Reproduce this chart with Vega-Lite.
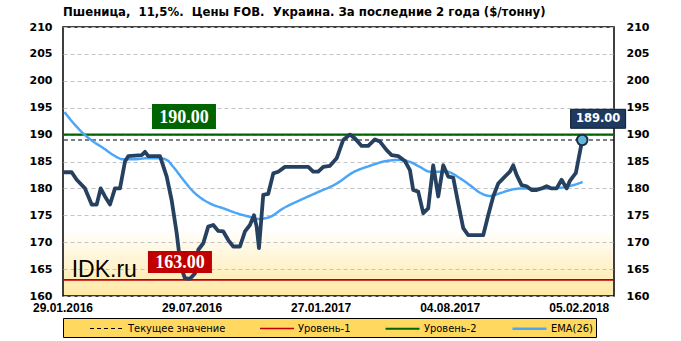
{
  "$schema": "https://vega.github.io/schema/vega-lite/v6.json",
  "width": 551,
  "height": 269,
  "autosize": {"type": "none"},
  "padding": {"left": 63, "top": 27, "right": 67, "bottom": 45},
  "background": "white",
  "title": {
    "text": "Пшеница,\u00a0 11,5%.\u00a0 Цены FOB.\u00a0 Украина. За последние 2 года ($/тонну)",
    "anchor": "start",
    "frame": "group",
    "font": "DejaVu Sans Condensed, Liberation Sans",
    "fontSize": 13,
    "fontWeight": "bold",
    "color": "black",
    "offset": 2
  },
  "view": {
    "stroke": "black",
    "strokeWidth": 1.5,
    "fill": {
      "gradient": "linear",
      "x1": 0, "y1": 0, "x2": 0, "y2": 1,
      "stops": [
        {"offset": 0, "color": "#FFFFFF"},
        {"offset": 0.75, "color": "#FFFFFF"},
        {"offset": 1, "color": "#FFE9A3"}
      ]
    }
  },
  "datasets": {
    "levels": [
      {"s": "Текущее значение", "v": 189},
      {"s": "Уровень-1", "v": 163},
      {"s": "Уровень-2", "v": 190}
    ],
    "dates": [
      {"t": 0, "label": "29.01.2016"},
      {"t": 26, "label": "29.07.2016"},
      {"t": 52, "label": "27.01.2017"},
      {"t": 78, "label": "04.08.2017"},
      {"t": 104, "label": "05.02.2018"}
    ],
    "price": [
      {"t":0.3,"v":183},{"t":1.75,"v":183},{"t":2.76,"v":181.6},{"t":4.43,"v":180},{"t":5.78,"v":177},{"t":6.79,"v":177},{"t":7.59,"v":180},{"t":8.46,"v":178.5},{"t":9.47,"v":177},{"t":10.47,"v":180},{"t":11.48,"v":180},{"t":12.49,"v":185},{"t":13.15,"v":186},{"t":15.85,"v":186.2},{"t":16.52,"v":186.8},{"t":17.18,"v":186},{"t":19.54,"v":186},{"t":20.89,"v":182.2},{"t":21.89,"v":177.8},{"t":22.9,"v":171.7},{"t":23.71,"v":165.5},{"t":24.57,"v":163.3},{"t":25.58,"v":163.2},{"t":26.59,"v":164.2},{"t":27.25,"v":168.6},{"t":28.26,"v":169.8},{"t":29.26,"v":172.9},{"t":30.27,"v":173.2},{"t":31.28,"v":172.1},{"t":32.29,"v":172},{"t":33.29,"v":170.4},{"t":34.3,"v":169.2},{"t":35.65,"v":169.2},{"t":36.66,"v":172},{"t":37.66,"v":173.2},{"t":38.47,"v":175},{"t":39.01,"v":172.9},{"t":39.48,"v":168.9},{"t":40.34,"v":178.8},{"t":41.35,"v":179},{"t":42.36,"v":182.8},{"t":43.36,"v":183.1},{"t":44.71,"v":184},{"t":49.41,"v":184},{"t":50.41,"v":183.1},{"t":51.42,"v":183.1},{"t":52.43,"v":184},{"t":53.78,"v":184.2},{"t":55.13,"v":185.6},{"t":56.45,"v":189},{"t":57.8,"v":190},{"t":58.81,"v":189.3},{"t":60.16,"v":187.9},{"t":61.49,"v":187.9},{"t":62.84,"v":189.1},{"t":63.85,"v":188.7},{"t":65.2,"v":187.1},{"t":66.2,"v":186.2},{"t":67.53,"v":186},{"t":68.88,"v":185.1},{"t":69.89,"v":183.4},{"t":70.55,"v":179.7},{"t":71.56,"v":179.4},{"t":72.57,"v":175.4},{"t":73.57,"v":176.3},{"t":74.58,"v":184.3},{"t":75.59,"v":178.5},{"t":76.6,"v":184.3},{"t":77.6,"v":182.2},{"t":78.61,"v":182},{"t":79.62,"v":177.2},{"t":80.63,"v":172.6},{"t":81.63,"v":171.3},{"t":84.65,"v":171.3},{"t":85.66,"v":175},{"t":86.67,"v":178.5},{"t":87.67,"v":180.9},{"t":89.02,"v":182.2},{"t":90.03,"v":183.1},{"t":90.7,"v":184.3},{"t":91.38,"v":182.5},{"t":92.39,"v":180.6},{"t":93.39,"v":180.4},{"t":94.4,"v":179.7},{"t":95.41,"v":179.7},{"t":96.42,"v":180},{"t":97.42,"v":180.4},{"t":98.43,"v":180},{"t":99.44,"v":180},{"t":100.44,"v":181.6},{"t":101.45,"v":180},{"t":102.11,"v":181.4},{"t":103.32,"v":182.9},{"t":104.6,"v":189}
    ],
    "ema": [
      {"t":0.3,"v":194.2},{"t":2.42,"v":191.8},{"t":4.09,"v":190.2},{"t":6.1,"v":188.7},{"t":8.12,"v":187.5},{"t":10.13,"v":186.2},{"t":12.15,"v":185.4},{"t":14.16,"v":185.4},{"t":16.86,"v":185.6},{"t":19.54,"v":185.6},{"t":20.89,"v":185.3},{"t":22.22,"v":184},{"t":24.23,"v":181.6},{"t":26.24,"v":179.4},{"t":29.61,"v":177.2},{"t":32.29,"v":176.3},{"t":34.99,"v":175.4},{"t":37.66,"v":174.7},{"t":39.34,"v":174.3},{"t":41.69,"v":174.7},{"t":44.37,"v":176.3},{"t":47.73,"v":177.8},{"t":51.1,"v":179.2},{"t":55.13,"v":180.9},{"t":58.47,"v":183},{"t":61.83,"v":184.2},{"t":65.2,"v":185.1},{"t":67.88,"v":185.3},{"t":70.23,"v":184.8},{"t":71.9,"v":184},{"t":73.92,"v":183.1},{"t":77.28,"v":183.1},{"t":79.96,"v":181.9},{"t":81.97,"v":180.6},{"t":83.99,"v":179.2},{"t":86.0,"v":178.6},{"t":88.02,"v":179.1},{"t":90.03,"v":179.7},{"t":92.71,"v":180},{"t":95.41,"v":180},{"t":98.09,"v":180},{"t":100.77,"v":180.2},{"t":102.78,"v":180.6},{"t":104.67,"v":181.2}
    ],
    "labels": [
      {"kind": "lvl2", "t": 24.37, "v": 193.36, "label": "190.00"},
      {"kind": "lvl1", "t": 23.56, "v": 166.32, "label": "163.00"},
      {"kind": "cur", "t": 107.8, "v": 192.94, "label": "189.00"},
      {"kind": "wm", "t": 1.75, "v": 163.62, "label": "IDK.ru"}
    ]
  },
  "resolve": {"axis": {"y": "independent"}},
  "layer": [
    {
      "data": {"name": "levels"},
      "mark": {"type": "rule"},
      "encoding": {
        "y": {
          "field": "v", "type": "quantitative",
          "scale": {"domain": [160, 210], "nice": false, "zero": false},
          "axis": {
            "orient": "left", "title": null, "values": [160,165,170,175,180,185,190,195,200,205,210],
            "grid": true, "gridColor": "#C3C3C3", "gridDash": [4,3], "gridWidth": 1,
            "domain": false, "ticks": false, "labelPadding": 11,
            "labelFont": "DejaVu Sans", "labelFontSize": 11, "labelFontWeight": "bold", "labelColor": "black"
          }
        },
        "color": {
          "field": "s", "type": "nominal",
          "scale": {"domain": ["Текущее значение", "Уровень-1", "Уровень-2", "EMA(26)"], "range": ["#000000", "#C00000", "#006400", "#4BA6F7"]},
          "legend": {
            "orient": "bottom", "direction": "horizontal",
            "title": "\u00a0", "titleOrient": "left", "titleFontSize": 1, "titlePadding": 34,
            "symbolType": "M-2.83,0H2.83", "symbolSize": 144,
            "labelFont": "DejaVu Sans Condensed, DejaVu Sans", "labelFontSize": 11, "labelColor": "black", "labelOffset": 14,
            "columnPadding": 30, "padding": 3, "strokeColor": "black", "fillColor": "#FFD85F", "offset": 22
          }
        },
        "strokeDash": {
          "field": "s", "type": "nominal",
          "scale": {"domain": ["Текущее значение", "Уровень-1", "Уровень-2", "EMA(26)"], "range": [[4,3],[1,0],[1,0],[1,0]]}
        },
        "strokeWidth": {
          "field": "s", "type": "nominal",
          "scale": {"domain": ["Текущее значение", "Уровень-1", "Уровень-2", "EMA(26)"], "range": [1.2, 2.5, 2.5, 3]}
        }
      }
    },
    {
      "data": {"name": "ema"},
      "mark": {"type": "line", "interpolate": "monotone"},
      "encoding": {
        "x": {
          "field": "t", "type": "quantitative",
          "scale": {"domain": [0, 111], "nice": false, "zero": false},
          "axis": {
            "title": null, "values": [0, 26, 52, 78, 104], "labels": false,
            "grid": true, "gridColor": "#C3C3C3", "gridDash": [4,3], "gridWidth": 1,
            "domain": false, "ticks": false
          }
        },
        "y": {
          "field": "v", "type": "quantitative",
          "axis": {
            "orient": "right", "title": null, "values": [160,165,170,175,180,185,190,195,200,205,210],
            "grid": false, "domain": false, "ticks": false, "labelPadding": 12,
            "labelFont": "DejaVu Sans", "labelFontSize": 11, "labelFontWeight": "bold", "labelColor": "black"
          }
        },
        "color": {"datum": "EMA(26)"},
        "strokeDash": {"datum": "EMA(26)"},
        "strokeWidth": {"datum": "EMA(26)"}
      }
    },
    {
      "data": {"name": "price"},
      "mark": {"type": "line", "color": "#26405F", "strokeWidth": 3.8, "strokeJoin": "round", "strokeCap": "round"},
      "encoding": {
        "x": {"field": "t", "type": "quantitative", "axis": null},
        "y": {"field": "v", "type": "quantitative", "axis": null}
      }
    },
    {
      "data": {"name": "price"},
      "transform": [{"filter": "datum.t > 104"}],
      "mark": {"type": "point", "shape": "circle", "filled": true, "fill": "#62B5D6", "stroke": "#1B2F48", "strokeWidth": 2, "size": 110, "opacity": 1},
      "encoding": {
        "x": {"field": "t", "type": "quantitative", "axis": null},
        "y": {"field": "v", "type": "quantitative", "axis": null}
      }
    },
    {
      "data": {"name": "dates"},
      "mark": {"type": "text", "font": "Liberation Sans", "fontSize": 12, "fontWeight": "bold", "color": "black", "align": "center", "baseline": "middle"},
      "encoding": {
        "x": {"field": "t", "type": "quantitative", "axis": null},
        "y": {"datum": 157.77, "type": "quantitative", "scale": {"domain": [160, 210]}, "axis": null},
        "text": {"field": "label"}
      }
    },
    {
      "data": {"name": "labels"},
      "transform": [{"filter": "datum.kind == 'lvl2'"}],
      "layer": [
        {"mark": {"type": "point", "shape": "M-1,-0.39H1V0.39H-1Z", "size": 4096, "filled": true, "fill": "#006400", "strokeWidth": 0, "opacity": 1}},
        {"mark": {"type": "text", "font": "Liberation Serif", "fontSize": 18, "fontWeight": "bold", "color": "white", "align": "center", "baseline": "middle", "dy": 1}, "encoding": {"text": {"field": "label"}}}
      ],
      "encoding": {
        "x": {"field": "t", "type": "quantitative", "axis": null},
        "y": {"field": "v", "type": "quantitative", "axis": null}
      }
    },
    {
      "data": {"name": "labels"},
      "transform": [{"filter": "datum.kind == 'lvl1'"}],
      "layer": [
        {"mark": {"type": "point", "shape": "M-1,-0.344H1V0.344H-1Z", "size": 4096, "filled": true, "fill": "#C00000", "strokeWidth": 0, "opacity": 1}},
        {"mark": {"type": "text", "font": "Liberation Serif", "fontSize": 18, "fontWeight": "bold", "color": "white", "align": "center", "baseline": "middle", "dy": 1}, "encoding": {"text": {"field": "label"}}}
      ],
      "encoding": {
        "x": {"field": "t", "type": "quantitative", "axis": null},
        "y": {"field": "v", "type": "quantitative", "axis": null}
      }
    },
    {
      "data": {"name": "labels"},
      "transform": [{"filter": "datum.kind == 'cur'"}],
      "layer": [
        {"mark": {"type": "point", "shape": "M-1,-0.345H1V0.345H-1Z", "size": 3025, "filled": true, "fill": "#1F3A5F", "stroke": "#0A1A2E", "strokeWidth": 1, "opacity": 1}},
        {"mark": {"type": "text", "font": "DejaVu Sans", "fontSize": 11.5, "fontWeight": "bold", "color": "white", "align": "center", "baseline": "middle", "dy": 0.5}, "encoding": {"text": {"field": "label"}}}
      ],
      "encoding": {
        "x": {"field": "t", "type": "quantitative", "axis": null},
        "y": {"field": "v", "type": "quantitative", "axis": null}
      }
    },
    {
      "data": {"name": "labels"},
      "transform": [{"filter": "datum.kind == 'wm'"}],
      "mark": {"type": "text", "font": "Liberation Sans", "fontSize": 23, "color": "black", "align": "left", "baseline": "alphabetic"},
      "encoding": {
        "x": {"field": "t", "type": "quantitative", "axis": null},
        "y": {"field": "v", "type": "quantitative", "axis": null},
        "text": {"field": "label"}
      }
    }
  ]
}
